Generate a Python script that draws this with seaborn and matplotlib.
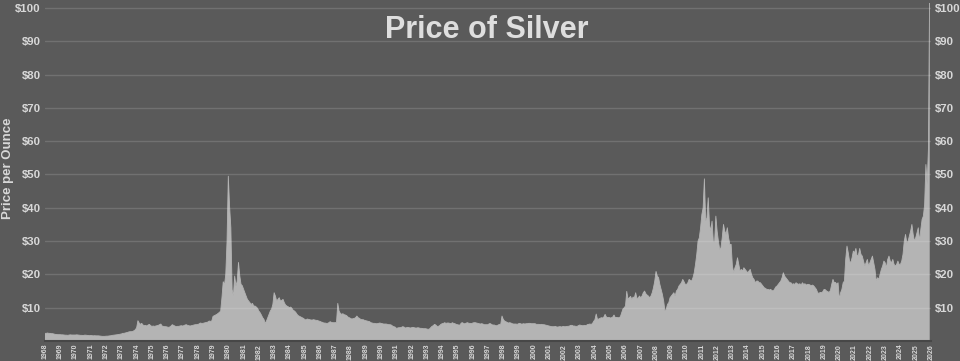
import numpy as np
import pandas as pd
import matplotlib
matplotlib.use("Agg")
import matplotlib.pyplot as plt
import seaborn as sns

# Monthly silver price (USD/oz)
prices_1968_1979 = [
    2.3, 2.3, 2.4, 2.3, 2.3, 2.2, 2.2, 2.1, 2.0, 1.95, 1.9, 1.9,
    1.9, 1.85, 1.85, 1.8, 1.75, 1.75, 1.7, 1.8, 1.85, 1.8, 1.8, 1.8,
    1.8, 1.85, 1.8, 1.75, 1.7, 1.7, 1.65, 1.75, 1.75, 1.7, 1.65, 1.6,
    1.65, 1.6, 1.55, 1.6, 1.55, 1.55, 1.55, 1.5, 1.45, 1.4, 1.4, 1.4,
    1.45, 1.45, 1.5, 1.55, 1.6, 1.7, 1.75, 1.8, 1.85, 1.9, 1.95, 2.05,
    2.1, 2.3, 2.3, 2.4, 2.5, 2.6, 2.75, 2.8, 2.8, 2.9, 3.1, 3.4,
    4.0, 6.1, 5.4, 5.0, 5.3, 4.8, 4.6, 4.7, 4.5, 4.8, 5.0, 4.6,
    4.4, 4.5, 4.4, 4.5, 4.6, 4.7, 4.9, 5.1, 4.5, 4.4, 4.3, 4.3,
    4.2, 4.1, 4.2, 4.5, 4.9, 4.7, 4.5, 4.3, 4.4, 4.4, 4.5, 4.6,
    4.5, 4.6, 4.8, 4.9, 4.7, 4.6, 4.5, 4.6, 4.7, 4.8, 4.9, 4.9,
    5.0, 5.1, 5.4, 5.3, 5.3, 5.4, 5.5, 5.6, 5.7, 6.0, 5.9, 6.0,
    7.4, 7.6, 7.8, 8.0, 8.3, 8.6, 9.0, 13.0, 17.8, 16.8, 20.0, 30.0,
]
prices_1980_1989 = [
    49.5, 40.5, 34.0, 15.5, 13.5, 19.5, 16.5, 18.0, 23.6, 19.6, 17.0, 16.6,
    15.5, 14.5, 13.5, 12.5, 12.0, 11.5, 11.0, 11.3, 10.5, 10.5, 10.2, 9.8,
    9.0, 8.5, 7.8, 7.0, 6.5, 5.3, 6.0, 7.0, 8.0, 9.0, 9.6, 11.0,
    14.5, 13.5, 12.0, 12.5, 13.0, 12.0, 12.2, 12.5, 11.5, 10.8, 10.5, 10.3,
    10.0, 10.2, 9.8, 9.2, 9.0, 8.6, 8.0, 7.6, 7.4, 7.2, 7.0, 6.8,
    6.5, 6.3, 6.6, 6.5, 6.4, 6.3, 6.3, 6.4, 6.3, 6.2, 6.2, 6.0,
    5.9, 5.7, 5.6, 5.4, 5.4, 5.3, 5.3, 5.5, 5.8, 5.6, 5.5, 5.5,
    5.5, 5.6, 11.3, 9.0, 8.3, 8.0, 8.2, 7.9, 7.8, 7.6, 7.2, 7.0,
    6.8, 6.6, 6.7, 6.8, 7.0, 7.5, 7.0, 6.8, 6.5, 6.4, 6.4, 6.2,
    6.1, 6.0, 5.9, 5.8, 5.5, 5.4, 5.3, 5.3, 5.2, 5.2, 5.3, 5.4,
]
prices_1990_1999 = [
    5.3, 5.2, 5.1, 5.1, 5.1, 5.0, 4.9, 4.9, 4.8, 4.5, 4.3, 4.2,
    3.8, 3.9, 4.0, 4.0, 4.1, 4.3, 4.2, 3.9, 4.0, 4.1, 4.0, 3.9,
    4.0, 4.1, 4.0, 3.9, 3.9, 4.0, 3.9, 3.8, 3.8, 3.7, 3.7, 3.7,
    3.6, 3.5, 3.6, 4.0, 4.4, 4.6, 5.0, 4.8, 4.4, 4.4, 4.6, 5.0,
    5.2, 5.3, 5.5, 5.3, 5.4, 5.4, 5.3, 5.2, 5.5, 5.3, 5.2, 5.0,
    4.9, 4.8, 4.8, 5.4, 5.5, 5.2, 5.2, 5.4, 5.5, 5.3, 5.3, 5.2,
    5.4, 5.5, 5.5, 5.4, 5.3, 5.2, 5.1, 5.2, 5.1, 4.9, 4.9, 4.9,
    4.9, 5.2, 5.2, 4.9, 4.8, 4.8, 4.6, 4.6, 4.8, 5.0, 5.0, 7.5,
    6.5, 6.0, 5.8, 5.6, 5.4, 5.5, 5.4, 5.2, 5.1, 5.1, 5.1, 5.0,
    5.2, 5.3, 5.1, 5.1, 5.2, 5.1, 5.2, 5.2, 5.3, 5.3, 5.2, 5.2,
]
prices_2000_2009 = [
    5.2, 5.2, 5.0, 5.0, 5.0, 4.9, 5.0, 4.9, 4.9, 4.8, 4.7, 4.6,
    4.5, 4.4, 4.3, 4.3, 4.3, 4.4, 4.2, 4.2, 4.3, 4.3, 4.2, 4.4,
    4.3, 4.3, 4.4, 4.4, 4.5, 4.7, 4.7, 4.5, 4.5, 4.4, 4.4, 4.6,
    4.8, 4.7, 4.6, 4.6, 4.7, 4.6, 4.9, 5.0, 5.1, 5.0, 5.2, 5.9,
    6.4, 8.1, 6.5, 6.6, 6.8, 7.0, 6.9, 7.2, 8.0, 7.2, 7.0, 7.1,
    6.9, 7.0, 7.2, 7.8, 7.0, 7.1, 7.0, 7.0, 7.3, 8.5, 9.6, 10.0,
    10.5, 14.9, 12.5, 13.0, 13.4, 12.5, 13.2, 13.0, 14.5, 12.8, 12.9, 13.5,
    13.0, 13.5, 14.5, 15.0, 14.2, 13.8, 13.5, 13.0, 13.5, 14.5, 16.0, 18.0,
    20.9, 19.5, 19.0, 17.0, 15.5, 14.0, 12.0, 9.0, 9.5, 11.0, 11.5, 13.0,
    13.5, 14.0, 14.5, 13.5, 15.0, 15.5, 16.5, 17.0, 17.5, 18.5, 17.8, 17.0,
]
prices_2010_2019 = [
    17.0, 17.5, 18.5, 18.2, 18.0, 19.0, 20.5, 23.0, 26.0, 30.0, 31.0, 34.0,
    38.0, 40.0, 48.7, 36.0, 37.0, 43.0, 35.0, 33.0, 36.0, 30.0, 29.5, 37.5,
    33.0, 30.0, 27.5, 28.0, 31.0, 35.0, 33.0, 32.0, 34.0, 31.0, 29.0, 29.0,
    22.5, 20.5, 22.0, 23.0, 25.0, 23.0, 21.0, 21.5, 21.0, 22.0, 21.5, 21.0,
    20.5, 21.0, 21.5, 20.0, 19.0, 18.5, 17.5, 18.0, 18.0, 17.5, 17.5, 17.0,
    16.5, 16.0, 15.8, 15.5, 15.5, 15.3, 15.5, 15.2, 15.0, 15.5, 16.2, 16.5,
    17.0, 17.5, 18.0, 19.0, 20.5, 19.5, 19.0, 18.5, 18.0, 17.5, 17.5, 17.0,
    17.2, 17.0, 17.5, 17.2, 17.0, 17.2, 16.8, 17.5, 17.0, 17.2, 16.8, 17.0,
    17.0, 16.8, 16.6, 16.8, 16.5, 16.0, 15.5, 14.5, 14.3, 14.6, 14.5, 14.8,
    15.5, 15.4, 15.0, 14.8, 14.6, 15.2, 17.0, 18.5, 17.5, 17.6, 17.0, 17.5,
]
prices_2020_2025 = [
    12.5, 14.5, 15.5, 17.5, 18.0, 24.5, 28.5, 26.5, 24.0, 23.5, 25.0, 27.0,
    26.5, 27.8, 25.5, 25.8, 27.8, 26.0, 25.5, 24.0, 22.5, 23.5, 24.5, 22.5,
    23.5, 24.5, 25.5, 23.5, 21.5, 18.0, 19.0, 18.5, 20.0, 21.5, 22.5, 24.0,
    23.5, 22.0, 24.5, 25.5, 24.0, 23.5, 24.5, 23.0, 22.5, 23.0, 24.0, 23.0,
    23.0, 24.0, 26.0, 30.0, 32.0, 29.5, 30.0, 31.5, 33.0, 35.0, 32.0, 30.0,
    31.0, 32.5, 34.0, 30.0, 33.5, 36.5, 37.5, 41.0, 53.0, 47.0, 58.0, 110.0,
]

first_year = 1968
tick_years = list(range(1968, 2027))
price_ticks = [10, 20, 30, 40, 50, 60, 70, 80, 90, 100]
title_text = "Price of Silver"
ylabel_text = "Price per Ounce"

values = np.concatenate([prices_1968_1979, prices_1980_1989, prices_1990_1999,
                         prices_2000_2009, prices_2010_2019, prices_2020_2025])
dates = first_year + np.arange(len(values)) / 12.0
df = pd.DataFrame({"date": dates, "price": values})

BG = "#5a5a5a"
FILL = "#b4b4b4"
TXT = "#d8d8d8"

sns.set_theme(style="dark")
plt.rcParams["font.family"] = ["Liberation Sans", "DejaVu Sans"]

W, H = 960, 361
fig = plt.figure(figsize=(W / 100, H / 100), dpi=100, facecolor=BG)
ax = fig.add_axes([45 / W, 1 - 341 / H, (931 - 45) / W, (341 - 3) / H])
ax.set_facecolor(BG)

ax.fill_between(df["date"], df["price"], 0, color=FILL, lw=0, zorder=2)
sns.lineplot(data=df, x="date", y="price", ax=ax, color=FILL, lw=0.6, zorder=3)

ax.set_xlim(1968, 2026.0)
ax.set_ylim(0, 101.5)

ax.set_yticks(price_ticks)
ax.set_yticklabels([f"${v}" for v in price_ticks])
ax.set_xticks(tick_years)
ax.set_xticklabels([str(y) for y in tick_years], rotation=90)

ax.tick_params(axis="y", length=0, labelsize=8.2, labelcolor=TXT, pad=3,
               labelright=True, labelleft=True)
ax.tick_params(axis="x", length=0, labelsize=5, labelcolor=TXT, pad=2)
for lab in ax.get_yticklabels():
    lab.set_fontweight("bold")
for lab in ax.get_xticklabels():
    lab.set_fontweight("bold")

ax.grid(False)
for v in price_ticks:
    ax.axhline(v, color="white", alpha=0.14, lw=1, zorder=4)

for side in ["top", "left", "right"]:
    ax.spines[side].set_visible(False)
ax.spines["bottom"].set_color("#474747")
ax.spines["bottom"].set_linewidth(1.5)

ax.set_xlabel("")
ax.set_ylabel("")
fig.text(8 / W, 1 - 168 / H, ylabel_text, rotation=90, ha="center", va="center",
         fontsize=9.5, fontweight="bold", color=TXT)
fig.text(487 / W, 1 - 30 / H, title_text, ha="center", va="center",
         fontsize=22, fontweight="bold", color="#dedede")

fig.savefig("out.png", dpi=100, facecolor=BG)
